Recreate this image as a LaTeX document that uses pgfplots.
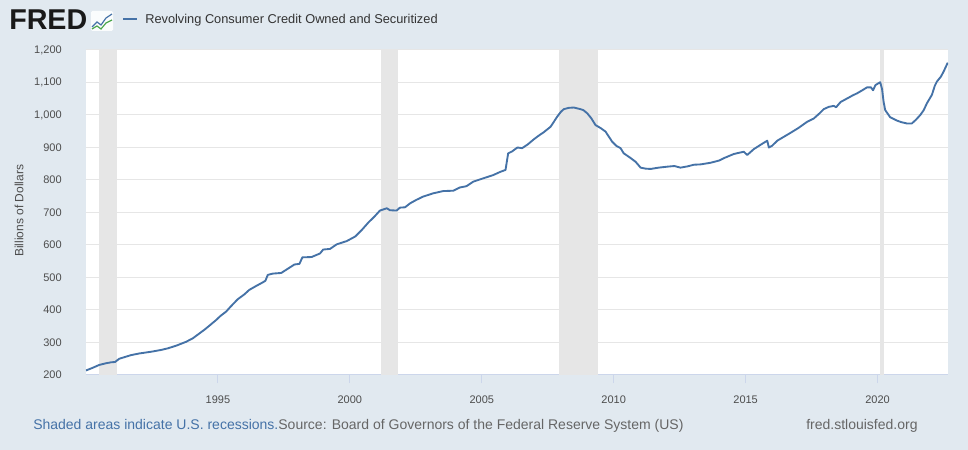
\documentclass[border=0pt]{standalone}
\usepackage{pgfplots}
\pgfplotsset{compat=1.18}
\usepackage{fontspec}
\setmainfont{Liberation Sans}

\definecolor{fredbg}{HTML}{E1E9F0}
\definecolor{fredline}{HTML}{4572A7}
\definecolor{recc}{HTML}{E6E6E6}
\definecolor{gridc}{HTML}{E6E6E6}
\definecolor{axisc}{HTML}{CCD6EB}
\definecolor{labc}{HTML}{4D4D4D}
\definecolor{srcc}{HTML}{666666}

\begin{document}
\begin{tikzpicture}[x=0.75pt,y=0.75pt]
\useasboundingbox (0,0) rectangle (968,450);
\fill[fredbg] (0,0) rectangle (968,450);

% logo and legend
\node[anchor=base west,inner sep=0pt,font=\fontsize{21.5}{21.5}\bfseries\selectfont,text=black!90] at (9,420) {FRED};
\fill[white!85!fredbg,rounded corners=1pt] (91,419) rectangle (113,439);
\draw[fredline,line width=0.9pt] (92,423) -- (97,428) -- (101,425) -- (106,432) -- (112,436);
\draw[green!50!black!70,line width=0.9pt] (92,421) -- (97,424) -- (101,421) -- (106,427) -- (112,430);
\draw[fredline,line width=1.5pt] (123,431) -- (137,431);
\node[anchor=base west,inner sep=0pt,font=\fontsize{9.6}{9.6}\selectfont,text=black!80] at (145,426) {Revolving Consumer Credit Owned and Securitized};

\begin{axis}[
  at={(64.5pt,56.25pt)}, anchor=south west,
  scale only axis, width=646.5pt, height=243.75pt,
  xmin=1990, xmax=2022.67, ymin=200, ymax=1200,
  axis x line*=bottom, axis y line*=left,
  x axis line style={-,draw=axisc,line width=0.75pt},
  y axis line style={draw=none},
  axis background/.style={fill=white},
  ymajorgrids, grid style={gridc,line width=0.75pt},
  xtick={1995,2000,2005,2010,2015,2020},
  xticklabels={1995,2000,2005,2010,2015,2020},
  ytick={200,300,...,1200},
  tick align=outside,
  x tick style={draw=axisc,line width=0.75pt},
  major tick length=6pt,
  y tick style={draw=none},
  /pgf/number format/.cd, 1000 sep={,}, assume math mode=true,
  /pgfplots/.cd,
  tick label style={font=\fontsize{8.25}{8.25}\selectfont,text=labc},
  xticklabel style={anchor=center,inner sep=0pt,yshift=-12.4pt},
  yticklabel style={anchor=east,inner sep=0pt,xshift=-12pt},
  ylabel={Billions of Dollars},
  ylabel style={font=\fontsize{9}{9}\selectfont,text=labc,at={(axis description cs:-0.0777,0.505)},anchor=center},
]
\addplot[fill=recc,draw=none] coordinates {(1990.5,200) (1990.5,1200) (1991.17,1200) (1991.17,200)} -- cycle;
\addplot[fill=recc,draw=none] coordinates {(2001.17,200) (2001.17,1200) (2001.83,1200) (2001.83,200)} -- cycle;
\addplot[fill=recc,draw=none] coordinates {(2007.92,200) (2007.92,1200) (2009.42,1200) (2009.42,200)} -- cycle;
\addplot[fill=recc,draw=none] coordinates {(2020.08,200) (2020.08,1200) (2020.25,1200) (2020.25,200)} -- cycle;

\addplot[fredline,line width=1.4pt,line join=round,mark=none] coordinates {
(1990.00,214) (1990.25,222) (1990.50,231) (1990.75,236) (1990.95,239)
(1991.10,240) (1991.26,250) (1991.50,256) (1991.70,261) (1992.00,266)
(1992.25,269) (1992.50,272) (1992.84,277) (1993.10,282) (1993.41,290)
(1993.79,302) (1994.05,313) (1994.30,328) (1994.50,340) (1994.68,352)
(1994.93,369) (1995.10,382) (1995.31,395) (1995.50,412) (1995.75,433)
(1996.00,448) (1996.19,462) (1996.45,474) (1996.70,485) (1996.80,490)
(1996.89,508) (1997.08,512) (1997.40,514) (1997.65,527) (1997.90,540)
(1998.09,542) (1998.20,562) (1998.55,563) (1998.87,574) (1998.99,586)
(1999.25,588) (1999.50,602) (1999.88,612) (2000.20,626) (2000.45,646)
(2000.70,669) (2000.95,689) (2001.14,706) (2001.40,713) (2001.52,707)
(2001.77,706) (2001.90,715) (2002.09,716) (2002.28,728) (2002.50,738)
(2002.78,749) (2003.16,759) (2003.54,766) (2003.92,767) (2004.17,777)
(2004.42,781) (2004.68,795) (2005.05,805) (2005.43,815) (2005.70,825)
(2005.90,831) (2006.00,882) (2006.15,888) (2006.35,900) (2006.53,898)
(2006.75,910) (2006.97,925) (2007.15,936) (2007.35,947) (2007.61,964)
(2007.86,995) (2008.00,1010) (2008.11,1018) (2008.30,1022) (2008.49,1023)
(2008.74,1018) (2008.85,1015) (2009.00,1005) (2009.15,990) (2009.31,969)
(2009.50,960) (2009.69,949) (2009.94,918) (2010.10,905) (2010.26,898)
(2010.38,882) (2010.60,870) (2010.83,856) (2011.02,838) (2011.20,835)
(2011.40,834) (2011.70,838) (2012.03,841) (2012.30,843) (2012.53,838)
(2012.80,842) (2013.04,847) (2013.29,848) (2013.67,853) (2014.00,860)
(2014.17,867) (2014.55,880) (2014.93,887) (2015.06,877) (2015.31,895)
(2015.60,910) (2015.82,921) (2015.88,900) (2016.00,905) (2016.20,921)
(2016.45,933) (2016.70,945) (2017.00,960) (2017.33,979) (2017.58,989)
(2017.80,1005) (2017.96,1018) (2018.15,1025) (2018.34,1028) (2018.43,1024)
(2018.60,1040) (2018.85,1051) (2019.05,1060) (2019.23,1067) (2019.42,1076)
(2019.60,1085) (2019.75,1085) (2019.83,1076) (2019.92,1092) (2020.10,1101)
(2020.17,1080) (2020.23,1040) (2020.29,1015) (2020.48,993) (2020.73,983)
(2020.90,978) (2021.11,974) (2021.30,974) (2021.45,985) (2021.62,1000)
(2021.75,1015) (2021.87,1036) (2022.06,1062) (2022.17,1090) (2022.25,1103)
(2022.40,1118) (2022.50,1133) (2022.66,1161)
};
\end{axis}

% footer
\node[anchor=base west,inner sep=0pt,font=\fontsize{10.5}{10.5}\selectfont] at (33,20)
  {\textcolor{fredline}{Shaded areas indicate U.S. recessions.}\textcolor{srcc}{Source: Board of Governors of the Federal Reserve System (US)}};
\node[anchor=base west,inner sep=0pt,font=\fontsize{10.5}{10.5}\selectfont,text=srcc] at (806,20) {fred.stlouisfed.org};
\end{tikzpicture}
\end{document}
